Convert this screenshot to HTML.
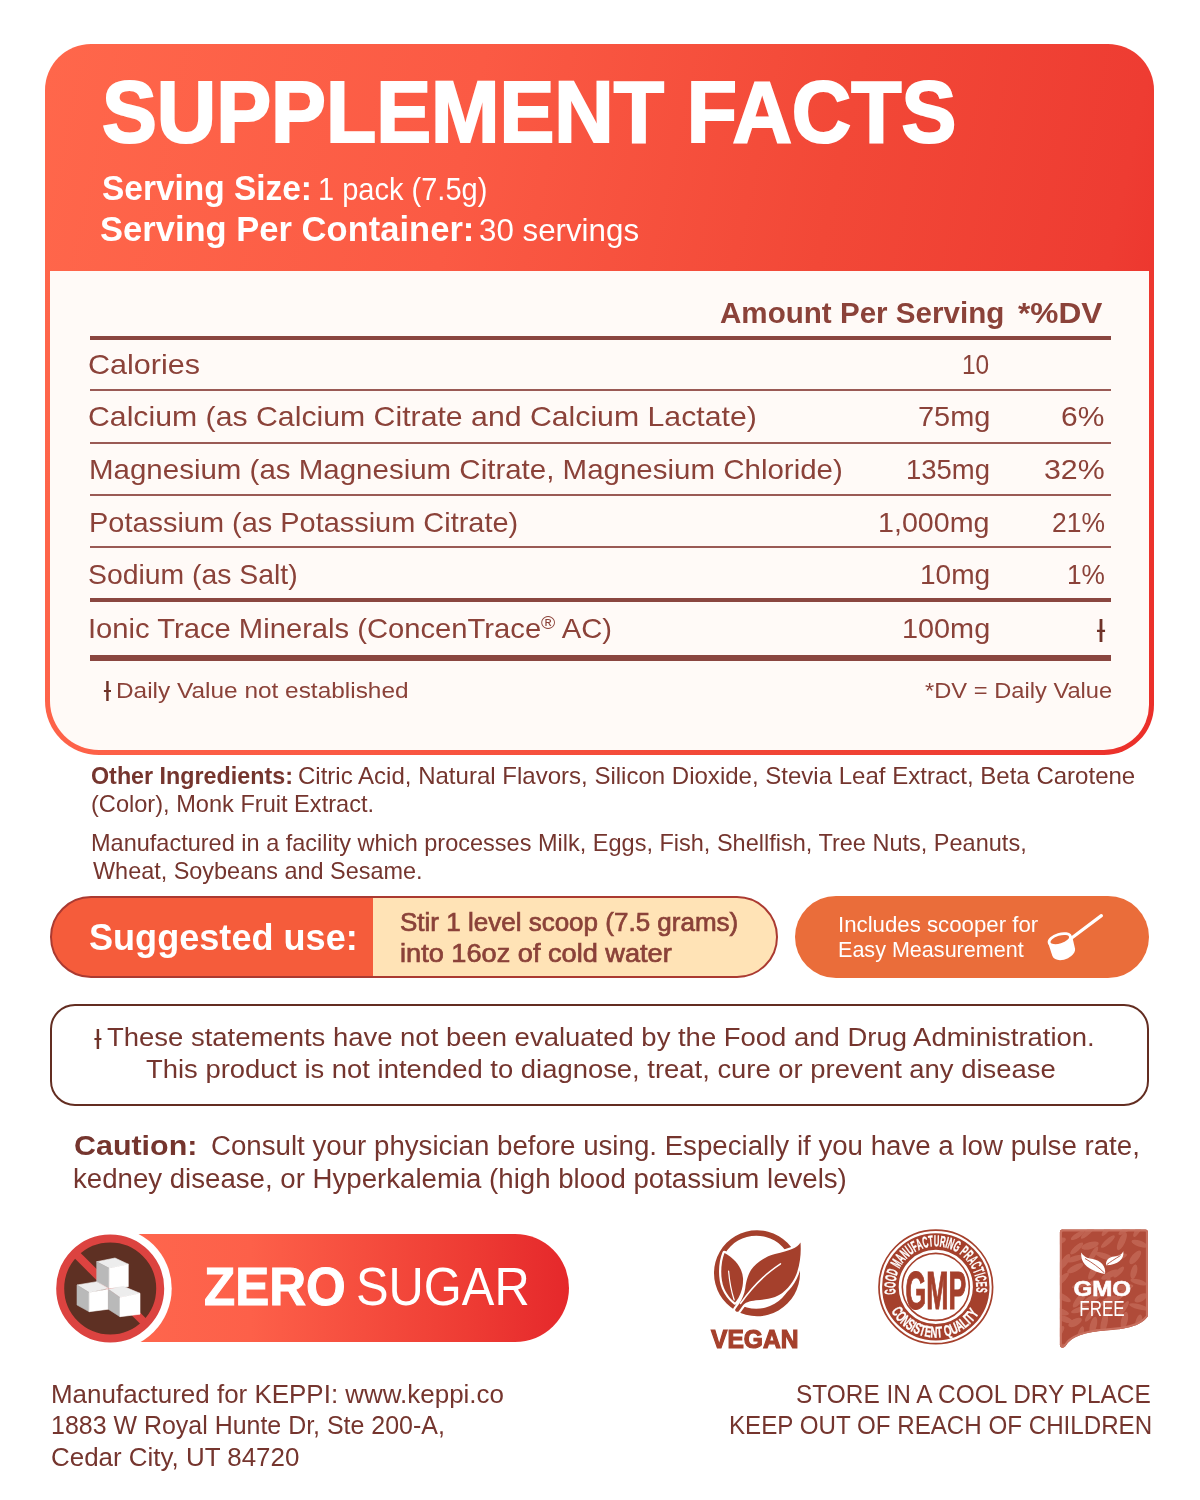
<!DOCTYPE html>
<html lang="en"><head><meta charset="utf-8"><title>Supplement Facts</title>
<style>
html,body{margin:0;padding:0;}
body{width:1200px;height:1500px;position:relative;background:#fff;overflow:hidden;font-family:"Liberation Sans",sans-serif;}
.t{position:absolute;white-space:nowrap;line-height:1;transform-origin:0 0;}
.t sup{font-size:.66em;vertical-align:baseline;position:relative;top:-.46em;line-height:0}
.abs{position:absolute;}
.box{position:absolute;left:45px;top:44px;width:1109px;height:711px;border-radius:46px 46px 50px 54px;background:linear-gradient(102deg,#ff674b 0%,#fb5a44 35%,#f24837 65%,#ee3c32 88%,#eb2e29 100%);}
.panel{position:absolute;left:50px;top:271px;width:1099.3px;height:479px;border-radius:0 0 45px 49px;background:#fffaf7;}
.hl{position:absolute;left:90px;width:1021px;background:#8a4640;}
.sugg{left:50px;top:896px;width:727.5px;height:82px;box-sizing:border-box;border:2px solid #ab3a31;border-radius:41px;background:linear-gradient(90deg,#f55c3b 0,#f55c3b 322.7px,#ffe3b6 322.7px,#ffe3b6 100%);background-origin:border-box;}
.scoop{left:795px;top:896px;width:354px;height:82px;border-radius:41px;background:#ea6d3a;}
.disc{left:50px;top:1004px;width:1098.5px;height:102px;box-sizing:border-box;border:2.3px solid #632d21;border-radius:25px;background:#fff;}
.zpill{left:56px;top:1234px;width:513px;height:108px;border-radius:54px;background:linear-gradient(90deg,#ff6a50 0%,#fd6049 38%,#ee3c34 80%,#e5282b 100%);}
.tl{height:2px;background:#9a5a55;}

</style></head>
<body>
<div class="box"></div>
<div class="panel"></div>
<div class="hl" style="top:336px;height:4px"></div>
<div class="hl tl" style="top:389px"></div>
<div class="hl tl" style="top:442px"></div>
<div class="hl tl" style="top:494px"></div>
<div class="hl tl" style="top:546px"></div>
<div class="hl" style="top:598px;height:4px"></div>
<div class="hl" style="top:655px;height:6px"></div>

<!-- suggested use pill -->
<div class="abs sugg"></div>
<!-- scooper pill -->
<div class="abs scoop"></div>
<svg class="abs" style="left:1030px;top:900px" width="90" height="75" viewBox="1030 900 90 75">
  <line x1="1071" y1="938.5" x2="1101.4" y2="915.6" stroke="#fff" stroke-width="3.2" stroke-linecap="round"/>
  <path d="M1048,942.5 L1052.3,955.8 C1054,961 1062,961.2 1068,958.2 C1073,955.6 1075.6,952 1075,948.6 L1072.2,936.5 Z" fill="#fff"/>
  <ellipse cx="1059.8" cy="939.6" rx="11.1" ry="5.3" transform="rotate(-17 1059.8 939.6)" fill="#ea6d3a" stroke="#fff" stroke-width="2.8"/>
</svg>

<!-- disclaimer box -->
<div class="abs disc"></div>

<!-- zero sugar -->
<div class="abs zpill"></div>
<svg class="abs" style="left:40px;top:1220px" width="140" height="140" viewBox="40 1220 140 140">
  <circle cx="110.2" cy="1288.5" r="61.5" fill="#fff"/>
  <circle cx="110.2" cy="1288.5" r="50" fill="#5e3023" stroke="#dc4340" stroke-width="8"/>
  <line x1="76" y1="1254" x2="145" y2="1323" stroke="#dc4340" stroke-width="8"/>
  <!-- top cube -->
  <polygon points="96.7,1261.7 115,1258 128.3,1264.2 109.2,1268.3" fill="#ededed" stroke="#ededed" stroke-width=".6"/>
  <polygon points="96.7,1261.7 109.2,1268.3 109.2,1288.3 96.7,1281.7" fill="#b9b9b9" stroke="#b9b9b9" stroke-width=".6"/>
  <polygon points="109.2,1268.3 128.3,1264.2 128.3,1286.7 109.2,1288.3" fill="#fff" stroke="#fff" stroke-width=".6"/>
  <!-- bottom-left cube -->
  <polygon points="77,1285 96.7,1281.7 108.3,1288.3 89.2,1292.5" fill="#ededed" stroke="#ededed" stroke-width=".6"/>
  <polygon points="77,1285 89.2,1292.5 89.2,1311.7 77,1305" fill="#b9b9b9" stroke="#b9b9b9" stroke-width=".6"/>
  <polygon points="89.2,1292.5 108.3,1289.2 108.3,1309.2 89.2,1311.7" fill="#fff" stroke="#fff" stroke-width=".6"/>
  <!-- bottom-right cube -->
  <polygon points="108.3,1289.2 123.3,1286.3 140,1293.3 120,1297.5" fill="#ededed" stroke="#ededed" stroke-width=".6"/>
  <polygon points="108.3,1289.2 120,1297.5 120,1316.7 108.3,1309.2" fill="#b9b9b9" stroke="#b9b9b9" stroke-width=".6"/>
  <polygon points="120,1297.5 140,1293.3 140,1314.2 120,1316.7" fill="#fff" stroke="#fff" stroke-width=".6"/>
</svg>

<!-- vegan icon -->
<svg class="abs" style="left:700px;top:1220px" width="120" height="140" viewBox="700 1220 120 140">
  <path fill-rule="evenodd" fill="#a5402c" d="M757,1230.2 a43,43 0 1 0 0.01,0 Z M756.3,1235.7 a36.5,36.5 0 1 1 -0.01,0 Z"/>
  <path d="M724.5,1253 C720.5,1263 720,1278 724,1288 C727,1295 731,1299.5 735,1302.5 C740,1297 743.5,1288 743,1278 C742.3,1268 735,1258.5 724.5,1253 Z" fill="#a5402c" stroke="#fff" stroke-width="4.4" stroke-linejoin="round" paint-order="stroke"/>
  <path d="M800.5,1242.5 C797,1248 790,1250.5 775,1254 C765,1256.5 756,1263 751,1270 C747,1277 746,1283 745.3,1288 C744.5,1294 742,1299.5 739,1304 L735.3,1309.3 C734.5,1311 737.5,1312.8 738.8,1311.2 L742.5,1306 C745,1302.5 749,1301.3 756,1300.3 C763,1299.5 768,1299.5 775,1297 C785,1293 792.5,1284 796.5,1274 C800.5,1263 801.2,1252 800.5,1242.5 Z" fill="#a5402c" stroke="#fff" stroke-width="4.4" stroke-linejoin="round" paint-order="stroke"/>
  <path d="M780.5,1263.8 C765,1274 750,1290 740.5,1303.5" fill="none" stroke="#fff" stroke-width="1.5" stroke-linecap="round"/>
  <path d="M728.6,1271 C729.5,1282 731.5,1292 734.2,1300" fill="none" stroke="#fff" stroke-width="1.2" stroke-linecap="round"/>
</svg>

<!-- GMP seal -->
<svg class="abs" style="left:870px;top:1220px" width="130" height="135" viewBox="870 1220 130 135" font-family="'Liberation Sans',sans-serif">
  <defs>
    <path id="arcTop" d="M 895.92,1293.93 A 40.5,40.5 0 1 1 975.74,1293.58"/>
    <path id="arcBot" d="M 891.2,1311.12 A 50.75,50.75 0 0 0 979.02,1313.49"/>
  </defs>
  <circle cx="935.8" cy="1286.9" r="56.8" fill="none" stroke="#a5402c" stroke-width="1.7"/>
  <circle cx="935.8" cy="1286.9" r="45.4" fill="none" stroke="#a5402c" stroke-width="16.6"/>
  <circle cx="935.8" cy="1286.9" r="33.5" fill="none" stroke="#a5402c" stroke-width="1.6"/>
  <text font-size="15.6" font-weight="700" fill="#fff" stroke="#fff" stroke-width=".35"><textPath href="#arcTop" textLength="139.5" lengthAdjust="spacingAndGlyphs">GOOD MANUFACTURING PRACTICES</textPath></text>
  <text font-size="15.6" font-weight="700" fill="#fff" stroke="#fff" stroke-width=".35"><textPath href="#arcBot" textLength="106" lengthAdjust="spacingAndGlyphs">CONSISTENT QUALITY</textPath></text>
  <text x="905.6" y="1308.8" font-size="54" font-weight="700" fill="#a5402c" stroke="#a5402c" stroke-width="1.2" textLength="60.5" lengthAdjust="spacingAndGlyphs">GMP</text>
</svg>

<!-- GMO free -->
<svg class="abs" style="left:1050px;top:1220px" width="110" height="135" viewBox="1050 1220 110 135" font-family="'Liberation Sans',sans-serif">
  <defs>
    <clipPath id="gmoclip"><path d="M1062.4,1229.6 H1145.4 Q1147.9,1229.6 1147.9,1232.1 V1316.2 C1141,1326.5 1125,1329 1105,1330.5 C1085,1332 1072,1336 1065.5,1346 C1063,1349 1059.9,1347.5 1059.9,1345 V1232.1 Q1059.9,1229.6 1062.4,1229.6 Z"/></clipPath>
  </defs>
  <g clip-path="url(#gmoclip)">
    <rect x="1055" y="1225" width="100" height="130" fill="#b04b39"/>
    <g fill="#c76d5b" opacity=".7">
      <ellipse cx="1060.6" cy="1229.2" rx="9.6" ry="2.5" transform="rotate(-76 1060.6 1229.2)"/>
      <ellipse cx="1077.7" cy="1235.3" rx="7.9" ry="2.5" transform="rotate(-32 1077.7 1235.3)"/>
      <ellipse cx="1088.7" cy="1231.4" rx="10.3" ry="2.5" transform="rotate(-43 1088.7 1231.4)"/>
      <ellipse cx="1107.7" cy="1228.5" rx="9.3" ry="2.5" transform="rotate(-52 1107.7 1228.5)"/>
      <ellipse cx="1124.9" cy="1230.3" rx="7.6" ry="2.5" transform="rotate(-34 1124.9 1230.3)"/>
      <ellipse cx="1138.5" cy="1228.8" rx="9.3" ry="2.6" transform="rotate(-59 1138.5 1228.8)"/>
      <ellipse cx="1058.5" cy="1241.5" rx="7.8" ry="3.2" transform="rotate(-21 1058.5 1241.5)"/>
      <ellipse cx="1076.7" cy="1248.4" rx="8.4" ry="2.7" transform="rotate(-42 1076.7 1248.4)"/>
      <ellipse cx="1090.0" cy="1245.6" rx="9.1" ry="3.5" transform="rotate(-16 1090.0 1245.6)"/>
      <ellipse cx="1107.9" cy="1241.6" rx="9.0" ry="2.6" transform="rotate(-41 1107.9 1241.6)"/>
      <ellipse cx="1121.9" cy="1241.3" rx="9.7" ry="3.3" transform="rotate(-65 1121.9 1241.3)"/>
      <ellipse cx="1139.5" cy="1243.7" rx="8.4" ry="3.0" transform="rotate(19 1139.5 1243.7)"/>
      <ellipse cx="1064.7" cy="1261.6" rx="8.9" ry="3.2" transform="rotate(-56 1064.7 1261.6)"/>
      <ellipse cx="1075.5" cy="1258.6" rx="9.7" ry="2.9" transform="rotate(-17 1075.5 1258.6)"/>
      <ellipse cx="1093.3" cy="1254.2" rx="8.8" ry="2.6" transform="rotate(-60 1093.3 1254.2)"/>
      <ellipse cx="1104.7" cy="1256.3" rx="10.0" ry="2.9" transform="rotate(20 1104.7 1256.3)"/>
      <ellipse cx="1119.3" cy="1257.2" rx="8.1" ry="2.6" transform="rotate(-19 1119.3 1257.2)"/>
      <ellipse cx="1135.2" cy="1257.3" rx="8.4" ry="3.5" transform="rotate(-51 1135.2 1257.3)"/>
      <ellipse cx="1059.4" cy="1268.9" rx="7.9" ry="3.0" transform="rotate(-75 1059.4 1268.9)"/>
      <ellipse cx="1075.3" cy="1268.2" rx="9.1" ry="3.1" transform="rotate(-28 1075.3 1268.2)"/>
      <ellipse cx="1093.5" cy="1271.1" rx="9.5" ry="3.2" transform="rotate(-61 1093.5 1271.1)"/>
      <ellipse cx="1110.0" cy="1274.6" rx="9.7" ry="3.1" transform="rotate(-27 1110.0 1274.6)"/>
      <ellipse cx="1118.8" cy="1272.1" rx="7.2" ry="2.5" transform="rotate(-46 1118.8 1272.1)"/>
      <ellipse cx="1133.9" cy="1271.8" rx="7.4" ry="3.1" transform="rotate(-76 1133.9 1271.8)"/>
      <ellipse cx="1060.9" cy="1280.2" rx="10.5" ry="3.1" transform="rotate(-43 1060.9 1280.2)"/>
      <ellipse cx="1080.6" cy="1284.8" rx="8.9" ry="2.5" transform="rotate(-17 1080.6 1284.8)"/>
      <ellipse cx="1091.7" cy="1283.9" rx="7.3" ry="2.5" transform="rotate(-31 1091.7 1283.9)"/>
      <ellipse cx="1106.8" cy="1285.5" rx="9.1" ry="2.6" transform="rotate(-72 1106.8 1285.5)"/>
      <ellipse cx="1123.5" cy="1287.3" rx="10.0" ry="2.8" transform="rotate(-9 1123.5 1287.3)"/>
      <ellipse cx="1138.6" cy="1282.1" rx="8.5" ry="2.6" transform="rotate(16 1138.6 1282.1)"/>
      <ellipse cx="1062.3" cy="1297.0" rx="9.5" ry="3.1" transform="rotate(28 1062.3 1297.0)"/>
      <ellipse cx="1079.8" cy="1299.4" rx="10.3" ry="3.3" transform="rotate(-50 1079.8 1299.4)"/>
      <ellipse cx="1091.9" cy="1298.8" rx="11.0" ry="3.3" transform="rotate(-29 1091.9 1298.8)"/>
      <ellipse cx="1108.5" cy="1300.7" rx="8.8" ry="3.5" transform="rotate(-28 1108.5 1300.7)"/>
      <ellipse cx="1120.9" cy="1294.8" rx="7.9" ry="2.6" transform="rotate(-45 1120.9 1294.8)"/>
      <ellipse cx="1140.9" cy="1297.9" rx="7.0" ry="3.5" transform="rotate(-30 1140.9 1297.9)"/>
      <ellipse cx="1058.7" cy="1311.3" rx="10.6" ry="3.3" transform="rotate(15 1058.7 1311.3)"/>
      <ellipse cx="1080.1" cy="1309.5" rx="9.5" ry="2.5" transform="rotate(-17 1080.1 1309.5)"/>
      <ellipse cx="1091.2" cy="1313.6" rx="9.9" ry="2.6" transform="rotate(-53 1091.2 1313.6)"/>
      <ellipse cx="1107.7" cy="1309.7" rx="9.6" ry="3.1" transform="rotate(-62 1107.7 1309.7)"/>
      <ellipse cx="1123.3" cy="1308.8" rx="9.2" ry="2.6" transform="rotate(-55 1123.3 1308.8)"/>
      <ellipse cx="1138.8" cy="1306.8" rx="10.0" ry="2.6" transform="rotate(15 1138.8 1306.8)"/>
      <ellipse cx="1065.0" cy="1319.2" rx="7.9" ry="3.0" transform="rotate(21 1065.0 1319.2)"/>
      <ellipse cx="1075.1" cy="1322.4" rx="7.5" ry="3.5" transform="rotate(-29 1075.1 1322.4)"/>
      <ellipse cx="1093.3" cy="1325.5" rx="9.1" ry="3.4" transform="rotate(-76 1093.3 1325.5)"/>
      <ellipse cx="1104.2" cy="1323.1" rx="10.5" ry="3.3" transform="rotate(-78 1104.2 1323.1)"/>
      <ellipse cx="1124.4" cy="1320.4" rx="8.9" ry="3.3" transform="rotate(-77 1124.4 1320.4)"/>
      <ellipse cx="1138.5" cy="1323.2" rx="8.9" ry="3.3" transform="rotate(-77 1138.5 1323.2)"/>
      <ellipse cx="1059.5" cy="1332.3" rx="7.4" ry="2.9" transform="rotate(-56 1059.5 1332.3)"/>
      <ellipse cx="1080.3" cy="1335.5" rx="9.5" ry="3.0" transform="rotate(-75 1080.3 1335.5)"/>
      <ellipse cx="1090.2" cy="1336.1" rx="10.2" ry="3.0" transform="rotate(-42 1090.2 1336.1)"/>
      <ellipse cx="1110.0" cy="1339.5" rx="8.0" ry="3.1" transform="rotate(-40 1110.0 1339.5)"/>
      <ellipse cx="1119.1" cy="1333.0" rx="8.8" ry="2.5" transform="rotate(-46 1119.1 1333.0)"/>
      <ellipse cx="1134.7" cy="1334.4" rx="7.5" ry="3.3" transform="rotate(-13 1134.7 1334.4)"/>
      <ellipse cx="1060.9" cy="1347.0" rx="7.5" ry="3.0" transform="rotate(-8 1060.9 1347.0)"/>
      <ellipse cx="1076.2" cy="1348.9" rx="11.0" ry="3.4" transform="rotate(-42 1076.2 1348.9)"/>
      <ellipse cx="1096.0" cy="1348.2" rx="8.7" ry="2.8" transform="rotate(-56 1096.0 1348.2)"/>
      <ellipse cx="1103.2" cy="1349.4" rx="8.8" ry="2.4" transform="rotate(-35 1103.2 1349.4)"/>
      <ellipse cx="1120.4" cy="1352.7" rx="7.5" ry="3.5" transform="rotate(-37 1120.4 1352.7)"/>
      <ellipse cx="1133.8" cy="1347.1" rx="7.2" ry="3.3" transform="rotate(-31 1133.8 1347.1)"/>
      </g>
  </g>
  <path d="M1062.4,1230.6 H1145.4 Q1146.9,1230.6 1146.9,1232.1 V1316 C1140,1325.5 1125,1328 1105,1329.5 C1085,1331 1071,1335 1064.8,1345.2 C1063.2,1347.6 1060.9,1346.8 1060.9,1345 V1232.1 Q1060.9,1230.6 1062.4,1230.6 Z" fill="none" stroke="#c8705f" stroke-width="2"/>
  <!-- leaves -->
  <path d="M1081.2,1252.5 C1080.5,1262 1086,1270 1105,1274 C1106.5,1264 1098,1259.5 1090,1258.5 C1085.5,1257.8 1082.8,1255.5 1081.2,1252.5 Z" fill="#fff"/>
  <path d="M1123.3,1251.2 C1124.5,1259 1118,1265 1106,1265.2 C1105.5,1258.5 1111,1256.5 1116,1256.2 C1119.5,1256 1122,1254 1123.3,1251.2 Z" fill="#fff"/>
  <path d="M1085,1258.5 C1092,1262.5 1099,1267.5 1104.5,1273" stroke="#b14e3d" stroke-width=".9" fill="none"/>
  <path d="M1120.5,1255.5 C1115,1259 1110,1262 1106.5,1264.8" stroke="#b14e3d" stroke-width=".9" fill="none"/>
  <text x="1073.4" y="1296.1" font-size="22" font-weight="700" fill="#fff" stroke="#fff" stroke-width=".6" textLength="57.7" lengthAdjust="spacingAndGlyphs">GMO</text>
  <text x="1079.3" y="1316.2" font-size="22.5" fill="#fff" textLength="45.4" lengthAdjust="spacingAndGlyphs">FREE</text>
</svg>

<div class="t" style="left:102.1px;top:67.9px;font-size:87.2px;font-weight:700;color:#fff;transform:scaleX(0.9431);-webkit-text-stroke:2.2px #fff;">SUPPLEMENT FACTS</div>
<div class="t" style="left:101.5px;top:170.5px;font-size:34.5px;font-weight:700;color:#fff;transform:scaleX(0.9693);">Serving Size:</div>
<div class="t" style="left:317.6px;top:173.8px;font-size:30.5px;font-weight:400;color:#fff;transform:scaleX(0.9511);">1 pack (7.5g)</div>
<div class="t" style="left:99.5px;top:211.5px;font-size:34.5px;font-weight:700;color:#fff;transform:scaleX(1.0014);">Serving Per Container:</div>
<div class="t" style="left:479.0px;top:214.8px;font-size:30.5px;font-weight:400;color:#fff;transform:scaleX(1.0260);">30 servings</div>
<div class="t" style="left:720.0px;top:298.8px;font-size:29px;font-weight:700;color:#8b4239;transform:scaleX(1.0199);">Amount Per Serving</div>
<div class="t" style="left:1017.5px;top:298.8px;font-size:29px;font-weight:700;color:#8b4239;transform:scaleX(1.0909);">*%DV</div>
<div class="t" style="left:87.7px;top:349.8px;font-size:28.5px;font-weight:400;color:#8b4239;transform:scaleX(1.0713);">Calories</div>
<div class="t" style="left:961.8px;top:349.8px;font-size:28.5px;font-weight:400;color:#8b4239;transform:scaleX(0.8571);">10</div>
<div class="t" style="left:87.7px;top:402.4px;font-size:28.5px;font-weight:400;color:#8b4239;transform:scaleX(1.0609);">Calcium (as Calcium Citrate and Calcium Lactate)</div>
<div class="t" style="left:917.5px;top:402.4px;font-size:28.5px;font-weight:400;color:#8b4239;transform:scaleX(1.0147);">75mg</div>
<div class="t" style="left:1061.4px;top:402.4px;font-size:28.5px;font-weight:400;color:#8b4239;transform:scaleX(1.0513);">6%</div>
<div class="t" style="left:88.8px;top:455.4px;font-size:28.5px;font-weight:400;color:#8b4239;transform:scaleX(1.0346);">Magnesium (as Magnesium Citrate, Magnesium Chloride)</div>
<div class="t" style="left:905.6px;top:455.4px;font-size:28.5px;font-weight:400;color:#8b4239;transform:scaleX(0.9639);">135mg</div>
<div class="t" style="left:1043.9px;top:455.4px;font-size:28.5px;font-weight:400;color:#8b4239;transform:scaleX(1.0636);">32%</div>
<div class="t" style="left:88.8px;top:507.6px;font-size:28.5px;font-weight:400;color:#8b4239;transform:scaleX(1.0148);">Potassium (as Potassium Citrate)</div>
<div class="t" style="left:878.0px;top:507.6px;font-size:28.5px;font-weight:400;color:#8b4239;transform:scaleX(1.0047);">1,000mg</div>
<div class="t" style="left:1051.6px;top:507.6px;font-size:28.5px;font-weight:400;color:#8b4239;transform:scaleX(0.9273);">21%</div>
<div class="t" style="left:88.0px;top:559.9px;font-size:28.5px;font-weight:400;color:#8b4239;transform:scaleX(0.9952);">Sodium (as Salt)</div>
<div class="t" style="left:919.5px;top:559.9px;font-size:28.5px;font-weight:400;color:#8b4239;transform:scaleX(0.9851);">10mg</div>
<div class="t" style="left:1066.7px;top:559.9px;font-size:28.5px;font-weight:400;color:#8b4239;transform:scaleX(0.9211);">1%</div>
<div class="t" style="left:87.7px;top:613.7px;font-size:28.5px;font-weight:400;color:#8b4239;transform:scaleX(1.0241);">Ionic Trace Minerals (ConcenTrace<sup>®</sup> AC)</div>
<div class="t" style="left:901.5px;top:613.7px;font-size:28.5px;font-weight:400;color:#8b4239;transform:scaleX(1.0120);">100mg</div>
<div class="t" style="left:115.9px;top:678.7px;font-size:22.8px;font-weight:400;color:#8b4239;transform:scaleX(1.0704);">Daily Value not established</div>
<div class="t" style="left:925.0px;top:678.7px;font-size:22.8px;font-weight:400;color:#8b4239;transform:scaleX(1.0393);">*DV = Daily Value</div>
<div class="t" style="left:91.3px;top:764.9px;font-size:23.4px;font-weight:700;color:#75352e;transform:scaleX(0.9960);">Other Ingredients:</div>
<div class="t" style="left:297.5px;top:764.9px;font-size:23.4px;font-weight:400;color:#75352e;transform:scaleX(1.0271);">Citric Acid, Natural Flavors, Silicon Dioxide, Stevia Leaf Extract, Beta Carotene</div>
<div class="t" style="left:91.2px;top:792.8px;font-size:23.4px;font-weight:400;color:#75352e;transform:scaleX(1.0083);">(Color), Monk Fruit Extract.</div>
<div class="t" style="left:91.2px;top:831.8px;font-size:23.4px;font-weight:400;color:#75352e;transform:scaleX(1.0052);">Manufactured in a facility which processes Milk, Eggs, Fish, Shellfish, Tree Nuts, Peanuts,</div>
<div class="t" style="left:92.5px;top:859.8px;font-size:23.4px;font-weight:400;color:#75352e;transform:scaleX(1.0015);">Wheat, Soybeans and Sesame.</div>
<div class="t" style="left:89.0px;top:918.6px;font-size:37.8px;font-weight:700;color:#fff;transform:scaleX(0.9549);">Suggested use:</div>
<div class="t" style="left:400.3px;top:908.9px;font-size:26.2px;font-weight:400;color:#8b4239;transform:scaleX(0.9932);-webkit-text-stroke:.7px #8b4239;">Stir 1 level scoop (7.5 grams)</div>
<div class="t" style="left:400.3px;top:939.6px;font-size:26.2px;font-weight:400;color:#8b4239;transform:scaleX(1.0372);-webkit-text-stroke:.7px #8b4239;">into 16oz of cold water</div>
<div class="t" style="left:837.9px;top:915.0px;font-size:21.5px;font-weight:400;color:#fff;transform:scaleX(1.0340);">Includes scooper for</div>
<div class="t" style="left:838.0px;top:939.7px;font-size:21.5px;font-weight:400;color:#fff;transform:scaleX(1.0027);">Easy Measurement</div>
<div class="t" style="left:107.3px;top:1023.6px;font-size:26.2px;font-weight:400;color:#75352e;transform:scaleX(1.0487);">These statements have not been evaluated by the Food and Drug Administration.</div>
<div class="t" style="left:145.5px;top:1056.2px;font-size:26.2px;font-weight:400;color:#75352e;transform:scaleX(1.0467);">This product is not intended to diagnose, treat, cure or prevent any disease</div>
<div class="t" style="left:74.4px;top:1131.6px;font-size:27.5px;font-weight:700;color:#75352e;transform:scaleX(1.1065);">Caution:</div>
<div class="t" style="left:211.0px;top:1133.0px;font-size:26.8px;font-weight:400;color:#75352e;transform:scaleX(1.0324);">Consult your physician before using. Especially if you have a low pulse rate,</div>
<div class="t" style="left:72.9px;top:1166.2px;font-size:26.8px;font-weight:400;color:#75352e;transform:scaleX(1.0308);">kedney disease, or Hyperkalemia (high blood potassium levels)</div>
<div class="t" style="left:203.7px;top:1259.7px;font-size:53px;font-weight:700;color:#fff;transform:scaleX(0.9632);-webkit-text-stroke:1px #fff;">ZERO</div>
<div class="t" style="left:356.3px;top:1260.0px;font-size:53.5px;font-weight:400;color:#fff;transform:scaleX(0.9130);">SUGAR</div>
<div class="t" style="left:50.6px;top:1381.7px;font-size:25.2px;font-weight:400;color:#75352e;transform:scaleX(1.0305);">Manufactured for KEPPI: www.keppi.co</div>
<div class="t" style="left:50.7px;top:1413.3px;font-size:25.2px;font-weight:400;color:#75352e;transform:scaleX(0.9906);">1883 W Royal Hunte Dr, Ste 200-A,</div>
<div class="t" style="left:51.0px;top:1445.0px;font-size:25.2px;font-weight:400;color:#75352e;transform:scaleX(1.0293);">Cedar City, UT 84720</div>
<div class="t" style="left:796.1px;top:1381.7px;font-size:25.2px;font-weight:400;color:#75352e;transform:scaleX(0.9697);">STORE IN A COOL DRY PLACE</div>
<div class="t" style="left:729.1px;top:1413.3px;font-size:25.2px;font-weight:400;color:#75352e;transform:scaleX(0.9588);">KEEP OUT OF REACH OF CHILDREN</div>
<div class="t" style="left:711.0px;top:1326.0px;font-size:26px;font-weight:700;color:#a5402c;transform:scaleX(0.9451);-webkit-text-stroke:1.2px #a5402c;">VEGAN</div>
<div class="t" style="left:1096.5px;top:614.7px;font-size:32.2px;font-weight:400;color:#6e3228;transform:scaleX(1.0000);">Ɨ</div>
<div class="t" style="left:103.5px;top:676.7px;font-size:28.2px;font-weight:400;color:#6e3228;transform:scaleX(1.0000);">Ɨ</div>
<div class="t" style="left:94.0px;top:1025.5px;font-size:27.9px;font-weight:400;color:#6e3228;transform:scaleX(1.0000);">Ɨ</div>
</body></html>
